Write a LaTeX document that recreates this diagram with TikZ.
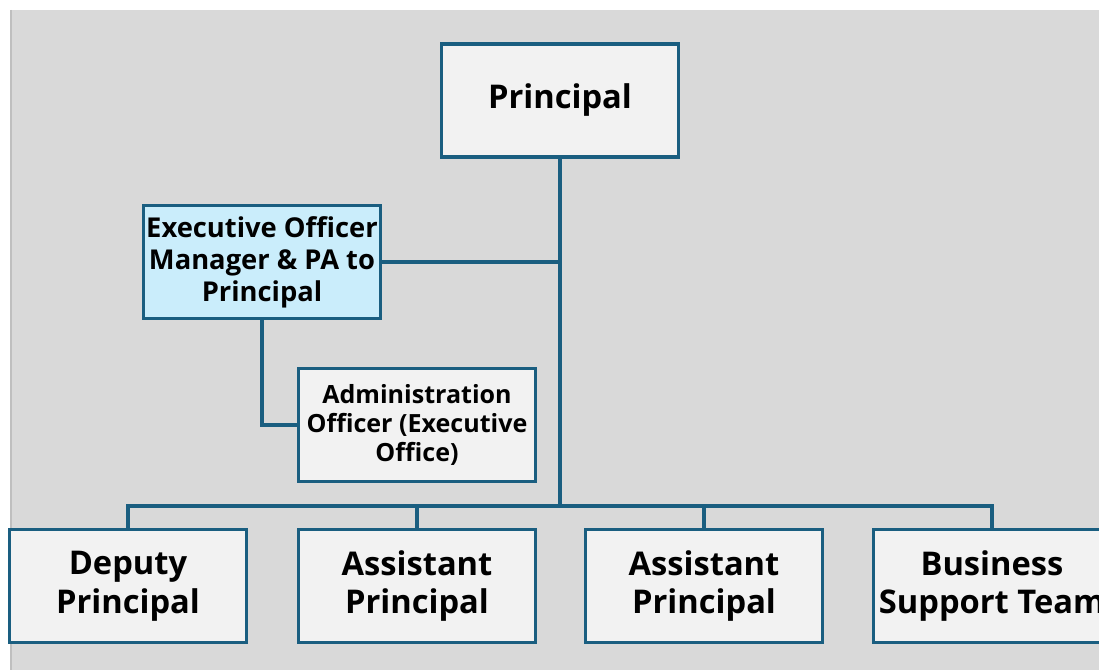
\documentclass[tikz,border=0pt]{standalone}
\usepackage{fontspec}
\setmainfont{Open Sans}
\definecolor{bgray}{HTML}{D9D9D9}
\definecolor{edgegray}{HTML}{BFBFBF}
\definecolor{lineblue}{HTML}{1A5E80}
\definecolor{boxfill}{HTML}{F2F2F2}
\definecolor{execfill}{HTML}{CAEDFB}
\tikzset{
  role/.style={draw=lineblue, line width=2.6pt, fill=boxfill, minimum width=177.5pt,
    minimum height=85pt, inner sep=0pt, align=center, font=\bfseries\fontsize{24.5}{29}\selectfont},
  execrole/.style={role, fill=execfill, font=\bfseries\fontsize{20.5}{24}\selectfont},
  adminrole/.style={role, font=\bfseries\fontsize{18.8}{21.75}\selectfont},
  link/.style={draw=lineblue, line width=2.6pt}
}
\begin{document}
\begin{tikzpicture}[x=0.75pt,y=-0.75pt]
\useasboundingbox (0,0) rectangle (1099,670);
\clip (0,0) rectangle (1099,670);
\fill[bgray] (10,10) rectangle (1099,670);
\draw[edgegray, line width=1.5pt] (10.5,10) -- (10.5,670);
\node[role] (prin) at (560,100.5) {Principal};
\node[execrole] (exec) at (262,262) {Executive Officer\\Manager \& PA to\\Principal};
\node[adminrole] (admin) at (417,425) {Administration\\Officer (Executive\\Office)};
\node[role] (dep) at (128,586) {Deputy\\Principal};
\node[role] (ap1) at (417,586) {Assistant\\Principal};
\node[role] (ap2) at (704,586) {Assistant\\Principal};
\node[role] (biz) at (992,586) {Business\\Support Team};
\coordinate (bus) at (560,506);
\draw[link] (prin.south) -- (bus);
\draw[link] (exec.east) -- (exec.east -| prin.south);
\draw[link] (exec.south) |- (admin.west);
\draw[link] (dep.north) |- (bus) -| (biz.north);
\draw[link] (ap1.north) -- (ap1.north |- bus);
\draw[link] (ap2.north) -- (ap2.north |- bus);
\end{tikzpicture}
\end{document}
